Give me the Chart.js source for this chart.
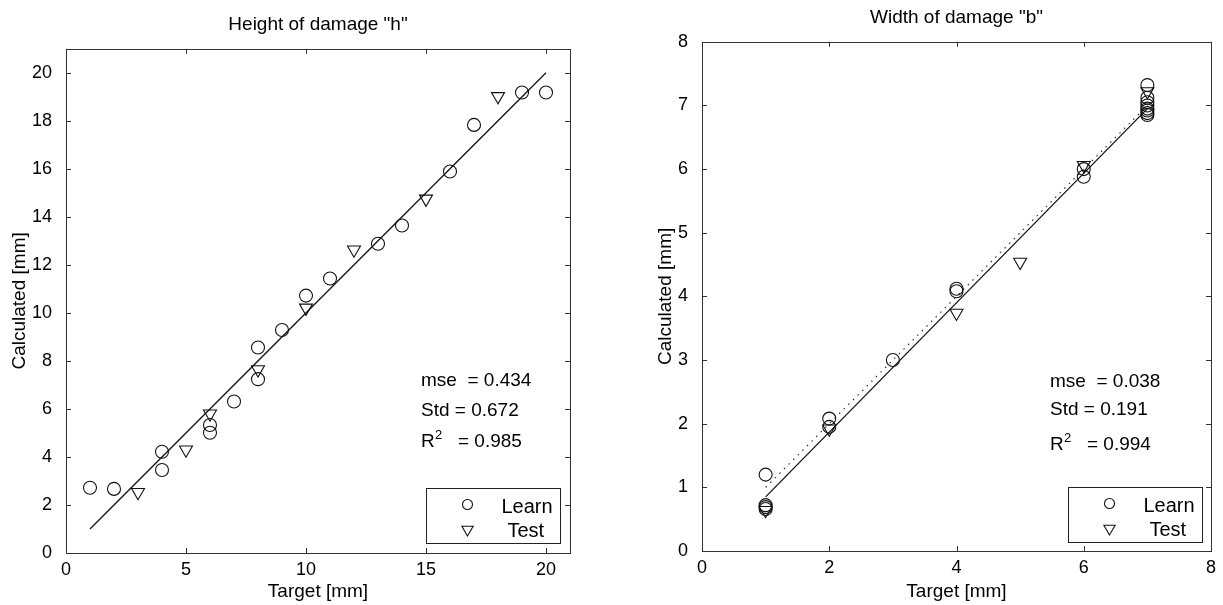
<!DOCTYPE html>
<html>
<head>
<meta charset="utf-8">
<title>Height and width of damage</title>
<script src="https://cdn.jsdelivr.net/npm/chart.js@4.4.1/dist/chart.umd.min.js"></script>
<style>
  body { margin: 0; background: #fff; }
  #heightChart { position: absolute; left: 0; top: 0; }
  #widthChart { position: absolute; left: 611px; top: 0; }
</style>
</head>
<body>
<canvas id="heightChart" width="611" height="605"></canvas>
<canvas id="widthChart" width="612" height="605"></canvas>
<script>
// Height of damage "h"
const hLearnX = [1, 2, 4, 4, 6, 6, 7, 8, 8, 9, 10, 11, 13, 14, 16, 17, 19, 20];
const hLearnY = [2.72, 2.67, 4.22, 3.46, 5.33, 5.01, 6.31, 8.56, 7.24, 9.29, 10.72, 11.43, 12.88, 13.64, 15.89, 17.83, 19.18, 19.18];
const hTestX = [3, 5, 6, 8, 10, 12, 15, 18];
const hTestY = [2.53, 4.30, 5.80, 7.64, 10.21, 12.63, 14.75, 19.02];
const hFitX = [1, 20];
const hFitY = [1, 20];
const hXTicks = [0, 5, 10, 15, 20];
const hYTicks = [0, 2, 4, 6, 8, 10, 12, 14, 16, 18, 20];
const hStats = ['0.434', '0.672', '0.985'];

// Width of damage "b"
const bLearnX = [1, 1, 1, 1, 2, 2, 3, 4, 4, 6, 6, 7, 7, 7, 7, 7, 7, 7, 7];
const bLearnY = [1.2, 0.72, 0.69, 0.66, 2.08, 1.95, 3.0, 4.12, 4.08, 5.88, 6.0, 7.32, 7.12, 7.05, 7.0, 6.95, 6.92, 6.88, 6.85];
const bTestX = [1, 2, 4, 5, 6, 7];
const bTestY = [0.64, 1.92, 3.74, 4.54, 6.06, 7.22];
const bFitX = [1, 7];
const bFitY = [0.85, 6.95];
const bIdealX = [1, 7];
const bIdealY = [1, 7];
const bXTicks = [0, 2, 4, 6, 8];
const bYTicks = [0, 1, 2, 3, 4, 5, 6, 7, 8];
const bStats = ['0.038', '0.191', '0.994'];

const FONT = '"Liberation Sans", Arial, Helvetica, sans-serif';
Chart.defaults.font.family = FONT;
Chart.defaults.color = '#000';

function xy(xs, ys) {
    return xs.map((x, i) => ({ x: x, y: ys[i] }));
}

// matlab style box, inner ticks, stats text and legend
const matlabFrame = {
    id: 'matlabFrame',
    afterDraw(chart, args, opts) {
        const ctx = chart.ctx;
        const a = chart.chartArea;
        const xs = chart.scales.x;
        const ys = chart.scales.y;
        ctx.save();
        ctx.strokeStyle = '#333';
        ctx.lineWidth = 1;
        ctx.strokeRect(Math.round(a.left) + 0.5, Math.round(a.top) + 0.5,
            Math.round(a.right - a.left), Math.round(a.bottom - a.top));
        ctx.beginPath();
        xs.ticks.forEach(t => {
            const px = Math.round(xs.getPixelForValue(t.value)) + 0.5;
            ctx.moveTo(px, a.bottom); ctx.lineTo(px, a.bottom - 5);
            ctx.moveTo(px, a.top); ctx.lineTo(px, a.top + 5);
        });
        ys.ticks.forEach(t => {
            const py = Math.round(ys.getPixelForValue(t.value)) + 0.5;
            ctx.moveTo(a.left, py); ctx.lineTo(a.left + 5, py);
            ctx.moveTo(a.right, py); ctx.lineTo(a.right - 5, py);
        });
        ctx.stroke();

        // statistics
        ctx.fillStyle = '#000';
        ctx.textAlign = 'left';
        ctx.textBaseline = 'alphabetic';
        ctx.font = '19px ' + FONT;
        const sx = a.left + opts.statsX;
        const b = a.bottom;
        ctx.fillText('mse  = ' + opts.stats[0], sx, b - opts.statsY[0]);
        ctx.fillText('Std = ' + opts.stats[1], sx, b - opts.statsY[1]);
        ctx.fillText('R', sx, b - opts.statsY[2]);
        ctx.fillText('= ' + opts.stats[2], sx + 37, b - opts.statsY[2]);
        ctx.font = '13px ' + FONT;
        ctx.fillText('2', sx + 14, b - opts.statsY[2] - 8);

        // legend box
        const lw = 134, lh = 55;
        const lx = Math.round(a.right - opts.legendGap - lw) + 0.5;
        const ly = Math.round(a.bottom - opts.legendGap - lh) + 0.5;
        ctx.fillStyle = '#fff';
        ctx.fillRect(lx, ly, lw, lh);
        ctx.strokeStyle = '#222';
        ctx.strokeRect(lx, ly, lw, lh);
        ctx.strokeStyle = '#111';
        ctx.lineWidth = 1.1;
        ctx.beginPath();
        ctx.arc(lx + 41, ly + 16, 5, 0, Math.PI * 2);
        ctx.stroke();
        const tx = lx + 41, ty = ly + 41, r = 6.5;
        ctx.beginPath();
        ctx.moveTo(tx, ty + r);
        ctx.lineTo(tx - r * 0.866, ty - r / 2);
        ctx.lineTo(tx + r * 0.866, ty - r / 2);
        ctx.closePath();
        ctx.stroke();
        ctx.fillStyle = '#000';
        ctx.font = '20px ' + FONT;
        ctx.fillText('Learn', lx + 75, ly + 24);
        ctx.fillText('Test', lx + 81, ly + 48);
        ctx.restore();
    }
};

function makeChart(id, cfg) {
    const datasets = [
        {
            label: 'Learn', data: xy(cfg.learnX, cfg.learnY),
            pointStyle: 'circle', pointRadius: 6.5, pointBorderWidth: 1.1,
            borderColor: '#111', backgroundColor: 'rgba(0,0,0,0)'
        },
        {
            label: 'Test', data: xy(cfg.testX, cfg.testY),
            pointStyle: 'triangle', rotation: 180, pointRadius: 7.5, pointBorderWidth: 1.1,
            borderColor: '#111', backgroundColor: 'rgba(0,0,0,0)'
        },
        {
            label: 'Fit', data: xy(cfg.fitX, cfg.fitY), showLine: true,
            pointRadius: 0, borderColor: '#111', borderWidth: 1.3
        }
    ];
    if (cfg.idealX) {
        datasets.push({
            label: 'Ideal', data: xy(cfg.idealX, cfg.idealY), showLine: true,
            pointRadius: 0, borderColor: '#333', borderWidth: 1.2, borderDash: [1.5, 5]
        });
    }
    return new Chart(document.getElementById(id), {
        type: 'scatter',
        data: { datasets: datasets },
        options: {
            responsive: false,
            animation: false,
            events: [],
            layout: { padding: cfg.pad },
            plugins: {
                legend: { display: false },
                tooltip: { enabled: false },
                title: {
                    display: true, text: cfg.title, fullSize: false,
                    font: { size: 19, weight: 'normal' }, padding: cfg.titlePad
                },
                matlabFrame: cfg.frame
            },
            scales: {
                x: {
                    type: 'linear', min: cfg.xMin, max: cfg.xMax,
                    grid: { display: false }, border: { display: false },
                    ticks: { font: { size: 18 }, padding: -2 },
                    afterBuildTicks: s => { s.ticks = cfg.xTicks.map(v => ({ value: v })); },
                    afterFit: s => { s.height = cfg.xAxisH; },
                    title: { display: true, text: 'Target [mm]', font: { size: 19 }, padding: { top: 0, bottom: 0 } }
                },
                y: {
                    type: 'linear', min: cfg.yMin, max: cfg.yMax,
                    grid: { display: false }, border: { display: false },
                    ticks: { font: { size: 18 }, padding: 6 },
                    afterBuildTicks: s => { s.ticks = cfg.yTicks.map(v => ({ value: v })); },
                    afterFit: s => { s.width = cfg.yAxisW; },
                    title: { display: true, text: 'Calculated [mm]', font: { size: 19 }, padding: { top: cfg.yTitlePad, bottom: 0 } }
                }
            }
        },
        plugins: [matlabFrame]
    });
}

makeChart('heightChart', {
    title: 'Height of damage "h"',
    learnX: hLearnX, learnY: hLearnY, testX: hTestX, testY: hTestY,
    fitX: hFitX, fitY: hFitY,
    xMin: 0, xMax: 21, yMin: 0, yMax: 21, xTicks: hXTicks, yTicks: hYTicks,
    pad: { left: 0, top: 0, right: 41, bottom: 2 },
    titlePad: { top: 13, bottom: 13 },
    xAxisH: 50, yAxisW: 66, yTitlePad: 8.6,
    frame: { stats: hStats, statsX: 355, statsY: [167, 137, 106], legendGap: 10 }
});

makeChart('widthChart', {
    title: 'Width of damage "b"',
    learnX: bLearnX, learnY: bLearnY, testX: bTestX, testY: bTestY,
    fitX: bFitX, fitY: bFitY, idealX: bIdealX, idealY: bIdealY,
    xMin: 0, xMax: 8, yMin: 0, yMax: 8, xTicks: bXTicks, yTicks: bYTicks,
    pad: { left: 30, top: 0, right: 12, bottom: 2 },
    titlePad: { top: 6, bottom: 13 },
    xAxisH: 52, yAxisW: 61, yTitlePad: 13.6,
    frame: { stats: bStats, statsX: 348, statsY: [164, 136, 101], legendGap: 9 }
});
</script>
</body>
</html>
